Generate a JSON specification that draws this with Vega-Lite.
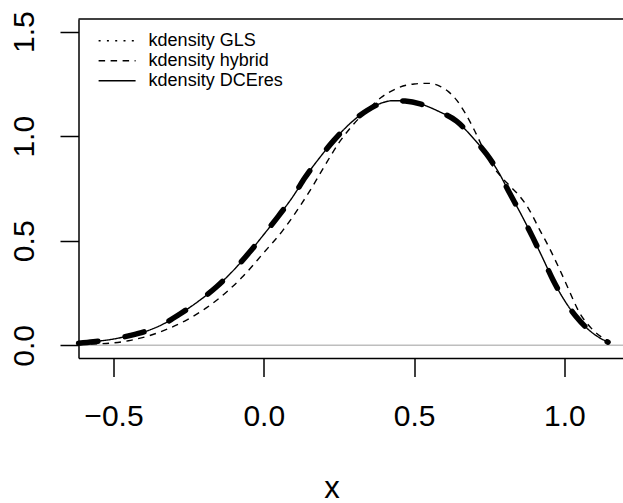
{
  "$schema": "https://vega.github.io/schema/vega-lite/v6.json",
  "width": 544.5,
  "height": 339,
  "autosize": {"type": "none"},
  "padding": {"left": 78.5, "top": 19, "right": 0, "bottom": 146},
  "background": "white",
  "config": {"view": {"stroke": null}, "font": "Liberation Sans"},
  "datasets": {
    "curves": [
      {"series": "kdensity DCEres", "x": -0.616, "y": 0.010},
      {"series": "kdensity DCEres", "x": -0.567, "y": 0.017},
      {"series": "kdensity DCEres", "x": -0.50, "y": 0.030},
      {"series": "kdensity DCEres", "x": -0.45, "y": 0.045},
      {"series": "kdensity DCEres", "x": -0.39, "y": 0.068},
      {"series": "kdensity DCEres", "x": -0.33, "y": 0.105},
      {"series": "kdensity DCEres", "x": -0.279, "y": 0.150},
      {"series": "kdensity DCEres", "x": -0.22, "y": 0.208},
      {"series": "kdensity DCEres", "x": -0.157, "y": 0.280},
      {"series": "kdensity DCEres", "x": -0.10, "y": 0.360},
      {"series": "kdensity DCEres", "x": -0.047, "y": 0.446},
      {"series": "kdensity DCEres", "x": 0.00, "y": 0.530},
      {"series": "kdensity DCEres", "x": 0.048, "y": 0.617},
      {"series": "kdensity DCEres", "x": 0.10, "y": 0.718},
      {"series": "kdensity DCEres", "x": 0.136, "y": 0.800},
      {"series": "kdensity DCEres", "x": 0.19, "y": 0.905},
      {"series": "kdensity DCEres", "x": 0.233, "y": 0.980},
      {"series": "kdensity DCEres", "x": 0.29, "y": 1.065},
      {"series": "kdensity DCEres", "x": 0.342, "y": 1.122},
      {"series": "kdensity DCEres", "x": 0.39, "y": 1.158},
      {"series": "kdensity DCEres", "x": 0.43, "y": 1.170},
      {"series": "kdensity DCEres", "x": 0.47, "y": 1.170},
      {"series": "kdensity DCEres", "x": 0.52, "y": 1.155},
      {"series": "kdensity DCEres", "x": 0.58, "y": 1.120},
      {"series": "kdensity DCEres", "x": 0.641, "y": 1.072},
      {"series": "kdensity DCEres", "x": 0.70, "y": 0.985},
      {"series": "kdensity DCEres", "x": 0.741, "y": 0.914},
      {"series": "kdensity DCEres", "x": 0.78, "y": 0.830},
      {"series": "kdensity DCEres", "x": 0.818, "y": 0.727},
      {"series": "kdensity DCEres", "x": 0.86, "y": 0.615},
      {"series": "kdensity DCEres", "x": 0.895, "y": 0.515},
      {"series": "kdensity DCEres", "x": 0.93, "y": 0.410},
      {"series": "kdensity DCEres", "x": 0.962, "y": 0.312},
      {"series": "kdensity DCEres", "x": 1.00, "y": 0.215},
      {"series": "kdensity DCEres", "x": 1.04, "y": 0.135},
      {"series": "kdensity DCEres", "x": 1.08, "y": 0.075},
      {"series": "kdensity DCEres", "x": 1.11, "y": 0.042},
      {"series": "kdensity DCEres", "x": 1.145, "y": 0.015},
      {"series": "kdensity GLS", "x": -0.616, "y": 0.010},
      {"series": "kdensity GLS", "x": -0.567, "y": 0.017},
      {"series": "kdensity GLS", "x": -0.50, "y": 0.030},
      {"series": "kdensity GLS", "x": -0.45, "y": 0.045},
      {"series": "kdensity GLS", "x": -0.39, "y": 0.068},
      {"series": "kdensity GLS", "x": -0.33, "y": 0.105},
      {"series": "kdensity GLS", "x": -0.279, "y": 0.150},
      {"series": "kdensity GLS", "x": -0.22, "y": 0.208},
      {"series": "kdensity GLS", "x": -0.157, "y": 0.280},
      {"series": "kdensity GLS", "x": -0.10, "y": 0.360},
      {"series": "kdensity GLS", "x": -0.047, "y": 0.446},
      {"series": "kdensity GLS", "x": 0.00, "y": 0.530},
      {"series": "kdensity GLS", "x": 0.048, "y": 0.617},
      {"series": "kdensity GLS", "x": 0.10, "y": 0.718},
      {"series": "kdensity GLS", "x": 0.136, "y": 0.800},
      {"series": "kdensity GLS", "x": 0.19, "y": 0.905},
      {"series": "kdensity GLS", "x": 0.233, "y": 0.980},
      {"series": "kdensity GLS", "x": 0.29, "y": 1.065},
      {"series": "kdensity GLS", "x": 0.342, "y": 1.122},
      {"series": "kdensity GLS", "x": 0.39, "y": 1.158},
      {"series": "kdensity GLS", "x": 0.43, "y": 1.170},
      {"series": "kdensity GLS", "x": 0.47, "y": 1.168},
      {"series": "kdensity GLS", "x": 0.52, "y": 1.155},
      {"series": "kdensity GLS", "x": 0.58, "y": 1.120},
      {"series": "kdensity GLS", "x": 0.641, "y": 1.072},
      {"series": "kdensity GLS", "x": 0.70, "y": 0.985},
      {"series": "kdensity GLS", "x": 0.741, "y": 0.914},
      {"series": "kdensity GLS", "x": 0.78, "y": 0.830},
      {"series": "kdensity GLS", "x": 0.818, "y": 0.727},
      {"series": "kdensity GLS", "x": 0.86, "y": 0.615},
      {"series": "kdensity GLS", "x": 0.895, "y": 0.515},
      {"series": "kdensity GLS", "x": 0.93, "y": 0.410},
      {"series": "kdensity GLS", "x": 0.962, "y": 0.312},
      {"series": "kdensity GLS", "x": 1.00, "y": 0.215},
      {"series": "kdensity GLS", "x": 1.04, "y": 0.135},
      {"series": "kdensity GLS", "x": 1.08, "y": 0.075},
      {"series": "kdensity GLS", "x": 1.11, "y": 0.042},
      {"series": "kdensity GLS", "x": 1.145, "y": 0.015},
      {"series": "kdensity hybrid", "x": -0.616, "y": 0.004},
      {"series": "kdensity hybrid", "x": -0.55, "y": 0.007},
      {"series": "kdensity hybrid", "x": -0.512, "y": 0.010},
      {"series": "kdensity hybrid", "x": -0.45, "y": 0.022},
      {"series": "kdensity hybrid", "x": -0.379, "y": 0.047},
      {"series": "kdensity hybrid", "x": -0.32, "y": 0.078},
      {"series": "kdensity hybrid", "x": -0.257, "y": 0.121},
      {"series": "kdensity hybrid", "x": -0.19, "y": 0.180},
      {"series": "kdensity hybrid", "x": -0.12, "y": 0.260},
      {"series": "kdensity hybrid", "x": -0.069, "y": 0.330},
      {"series": "kdensity hybrid", "x": -0.002, "y": 0.440},
      {"series": "kdensity hybrid", "x": 0.064, "y": 0.551},
      {"series": "kdensity hybrid", "x": 0.12, "y": 0.665},
      {"series": "kdensity hybrid", "x": 0.16, "y": 0.755},
      {"series": "kdensity hybrid", "x": 0.197, "y": 0.845},
      {"series": "kdensity hybrid", "x": 0.253, "y": 0.975},
      {"series": "kdensity hybrid", "x": 0.30, "y": 1.060},
      {"series": "kdensity hybrid", "x": 0.342, "y": 1.122},
      {"series": "kdensity hybrid", "x": 0.39, "y": 1.185},
      {"series": "kdensity hybrid", "x": 0.441, "y": 1.228},
      {"series": "kdensity hybrid", "x": 0.50, "y": 1.250},
      {"series": "kdensity hybrid", "x": 0.547, "y": 1.253},
      {"series": "kdensity hybrid", "x": 0.585, "y": 1.240},
      {"series": "kdensity hybrid", "x": 0.615, "y": 1.212},
      {"series": "kdensity hybrid", "x": 0.64, "y": 1.175},
      {"series": "kdensity hybrid", "x": 0.67, "y": 1.110},
      {"series": "kdensity hybrid", "x": 0.70, "y": 1.030},
      {"series": "kdensity hybrid", "x": 0.73, "y": 0.940},
      {"series": "kdensity hybrid", "x": 0.76, "y": 0.860},
      {"series": "kdensity hybrid", "x": 0.79, "y": 0.805},
      {"series": "kdensity hybrid", "x": 0.82, "y": 0.760},
      {"series": "kdensity hybrid", "x": 0.85, "y": 0.715},
      {"series": "kdensity hybrid", "x": 0.88, "y": 0.655},
      {"series": "kdensity hybrid", "x": 0.918, "y": 0.551},
      {"series": "kdensity hybrid", "x": 0.95, "y": 0.465},
      {"series": "kdensity hybrid", "x": 0.98, "y": 0.375},
      {"series": "kdensity hybrid", "x": 1.007, "y": 0.290},
      {"series": "kdensity hybrid", "x": 1.03, "y": 0.215},
      {"series": "kdensity hybrid", "x": 1.051, "y": 0.153},
      {"series": "kdensity hybrid", "x": 1.075, "y": 0.105},
      {"series": "kdensity hybrid", "x": 1.095, "y": 0.073},
      {"series": "kdensity hybrid", "x": 1.12, "y": 0.043},
      {"series": "kdensity hybrid", "x": 1.145, "y": 0.022}
    ]
  },
  "encoding": {
    "x": {
      "field": "x", "type": "quantitative",
      "scale": {"domain": [-0.6163, 1.1947], "nice": false, "zero": false},
      "axis": {
        "values": [-0.5, 0, 0.5, 1], "format": ".1f", "title": "x", "grid": false,
        "domain": true, "domainColor": "black", "domainWidth": 1.5,
        "ticks": true, "tickSize": 18.5, "tickColor": "black", "tickWidth": 1.5,
        "labelFont": "Liberation Sans", "labelFontSize": 30, "labelColor": "black",
        "labelBaseline": "alphabetic", "labelPadding": 48.5, "labelFlush": false, "labelOverlap": false,
        "titleFont": "Liberation Sans", "titleFontSize": 31, "titleFontWeight": "normal", "titleColor": "black",
        "titleX": 253, "titleY": 139, "titleAlign": "center", "titleBaseline": "alphabetic"
      }
    },
    "y": {
      "field": "y", "type": "quantitative",
      "scale": {"domain": [-0.0607, 1.5607], "nice": false, "zero": false},
      "axis": {
        "values": [0, 0.5, 1, 1.5], "format": ".1f", "title": null, "grid": false,
        "domain": true, "domainColor": "black", "domainWidth": 1.5,
        "ticks": true, "tickSize": 18.5, "tickColor": "black", "tickWidth": 1.5,
        "labelFont": "Liberation Sans", "labelFontSize": 30, "labelColor": "black",
        "labelAngle": 270, "labelAlign": "center", "labelBaseline": "alphabetic", "labelPadding": 26.5,
        "labelFlush": false, "labelOverlap": false
      }
    }
  },
  "data": {"name": "curves"},
  "layer": [
    {
      "data": {"values": [{"level": 0}]},
      "mark": {"type": "rule", "color": "#bebebe", "strokeWidth": 1.5},
      "encoding": {
        "x": null,
        "y": {"field": "level", "type": "quantitative"}
      }
    },
    {
      "data": {"values": [{"level": 1.5607}]},
      "mark": {"type": "rule", "color": "black", "strokeWidth": 1.5},
      "encoding": {
        "x": null,
        "y": {"field": "level", "type": "quantitative"}
      }
    },
    {
      "transform": [{"filter": "datum.series === 'kdensity GLS'"}],
      "mark": {"type": "line", "color": "black", "strokeWidth": 5.5, "strokeCap": "round", "strokeDash": [19.5, 27.5], "interpolate": "monotone"}
    },
    {
      "transform": [{"filter": "datum.series !== 'kdensity GLS'"}],
      "mark": {"type": "line", "color": "black", "strokeWidth": 1.4, "interpolate": "monotone"},
      "encoding": {
        "strokeDash": {
          "field": "series", "type": "nominal",
          "scale": {"domain": ["kdensity GLS", "kdensity hybrid", "kdensity DCEres"], "range": [[2, 6.3], [6.5, 5.5], [1, 0]]},
          "legend": {
            "orient": "none", "legendX": 29.6, "legendY": 12.7, "title": null,
            "symbolType": "M-3,0H3", "symbolSize": 152, "symbolStrokeColor": "black", "symbolStrokeWidth": 1.4,
            "symbolFillColor": "transparent",
            "labelFont": "Liberation Sans", "labelFontSize": 18, "labelColor": "black", "labelOffset": 22.5,
            "rowPadding": 2, "padding": 0
          }
        }
      }
    }
  ]
}
